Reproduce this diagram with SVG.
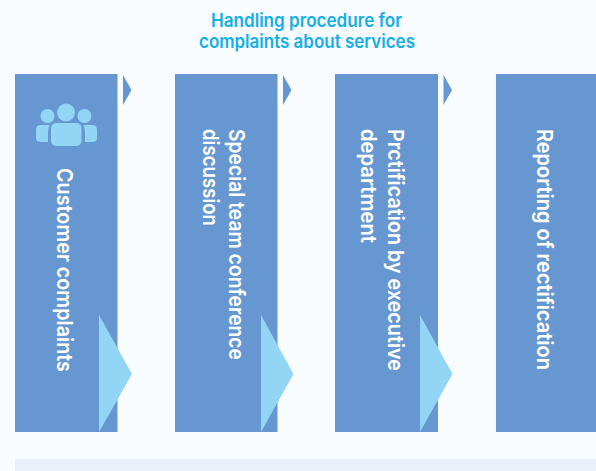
<svg xmlns="http://www.w3.org/2000/svg" width="596" height="471" viewBox="0 0 596 471">
<style>
.box{fill:#6797d1}
.ar{fill:#6797d1}
.big{fill:#92d5f5}
.t{font-family:"Inter","Lato",sans-serif;font-weight:600}
.l{fill:#fff;font-size:22px}
.h{fill:#14afe6;font-size:18.500px;text-anchor:middle}
</style>
<rect width="596" height="471" fill="#f9fcff"/>
<rect x="15" y="459" width="581" height="12" fill="#e9f0fa"/>
<g id="title"><text class="t h" x="306.500" y="27" textLength="191" lengthAdjust="spacingAndGlyphs">Handling procedure for</text><text class="t h" x="307" y="48" textLength="216" lengthAdjust="spacingAndGlyphs">complaints about services</text></g>
<g id="node1">
<rect class="box" x="15" y="74" width="102.500" height="358"/>
<g class="big"><circle cx="66" cy="112.500" r="9"/><circle cx="47.500" cy="116" r="7"/><circle cx="84.500" cy="116" r="7"/>
<path d="M36 130q0-5 5-5h8q1 0 0 2q-1 2-1 5v10h-7q-5 0-5-4zM97 130q0-5-5-5h-8q-1 0 0 2q1 2 1 5v10h7q5 0 5-4z"/>
<rect x="51" y="123" width="30.500" height="23" rx="5"/></g>
<text class="t l" transform="translate(57 168) rotate(90)" textLength="204" lengthAdjust="spacingAndGlyphs">Customer complaints</text>
</g>
<g id="node2">
<rect class="box" x="175" y="74" width="102.500" height="358"/>
<text class="t l" transform="translate(229 129) rotate(90)" textLength="231" lengthAdjust="spacingAndGlyphs">Special team conference</text>
<text class="t l" transform="translate(203 129) rotate(90)" textLength="97" lengthAdjust="spacingAndGlyphs">discussion</text>
</g>
<g id="node3">
<rect class="box" x="335" y="74" width="103" height="358"/>
<text class="t l" transform="translate(388 129) rotate(90)" textLength="242" lengthAdjust="spacingAndGlyphs">Prctification by executive</text>
<text class="t l" transform="translate(361 129) rotate(90)" textLength="114" lengthAdjust="spacingAndGlyphs">department</text>
</g>
<g id="node4">
<rect class="box" x="496" y="74" width="100" height="358"/>
<text class="t l" transform="translate(537 129) rotate(90)" textLength="241" lengthAdjust="spacingAndGlyphs">Reporting of rectification</text>
</g>
<g id="connectors">
<path class="ar" d="M123 75l8.500 15-8.500 15z"/>
<path class="ar" d="M283 75l8.500 15-8.500 15z"/>
<path class="ar" d="M443.500 75l8.500 15-8.500 15z"/>
<path class="big" d="M99 315l33 59-33 58z"/>
<path class="big" d="M261 315l32.500 59-32.500 58z"/>
<path class="big" d="M420 315l32.500 59-32.500 58z"/>
</g>
</svg>
